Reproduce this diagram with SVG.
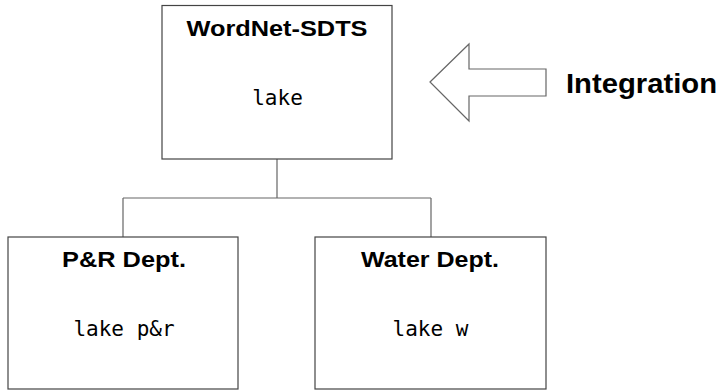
<svg xmlns="http://www.w3.org/2000/svg" width="720" height="390" viewBox="0 0 720 390">
<style>
.box{fill:#fff;stroke:#444;stroke-width:1.2}
.title{font-family:"Liberation Sans",Arial,sans-serif;font-weight:bold;fill:#000;text-anchor:middle}
.mono{font-family:"DejaVu Sans Mono",monospace;font-size:21px;fill:#000;text-anchor:middle}
.conn{fill:none;stroke:#666;stroke-width:1.2}
</style>
<rect width="720" height="390" fill="#fff"/>
<g id="connectors">
<path class="conn" d="M277 159 V198 M123 198 H431 M123 198 V237 M431 198 V237"/>
</g>
<g id="wordnet-sdts">
<rect class="box" x="162" y="5.5" width="230" height="153.5"/>
<text class="title" x="277" y="36" font-size="22" textLength="181" lengthAdjust="spacingAndGlyphs">WordNet-SDTS</text>
<text class="mono" x="277.5" y="105">lake</text>
</g>
<g id="pr-dept">
<rect class="box" x="8" y="237" width="230" height="152"/>
<text class="title" x="124" y="267" font-size="22" textLength="124" lengthAdjust="spacingAndGlyphs">P&amp;R Dept.</text>
<text class="mono" x="124" y="336">lake p&amp;r</text>
</g>
<g id="water-dept">
<rect class="box" x="315" y="237" width="231" height="152"/>
<text class="title" x="430" y="267" font-size="22" textLength="138" lengthAdjust="spacingAndGlyphs">Water Dept.</text>
<text class="mono" x="430.5" y="336">lake w</text>
</g>
<g id="integration">
<polygon points="430,82 469,44 469,69 546,69 546,96 469,96 469,121" fill="#fff" stroke="#666" stroke-width="1.2"/>
<text class="title" x="566" y="93" font-size="28" text-anchor="start" style="text-anchor:start" textLength="151" lengthAdjust="spacingAndGlyphs">Integration</text>
</g>
</svg>
